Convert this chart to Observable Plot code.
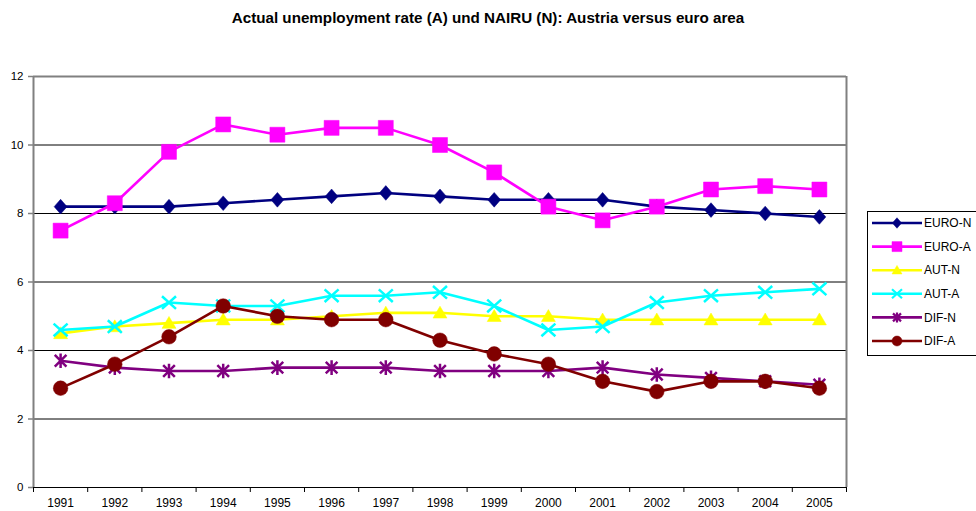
<!DOCTYPE html>
<html><head><meta charset="utf-8">
<script src="https://cdn.jsdelivr.net/npm/d3@7"></script>
<script src="https://cdn.jsdelivr.net/npm/@observablehq/plot@0.6"></script>
<style>
body{margin:0;background:#fff;font-family:"Liberation Sans",Arial,sans-serif;}
#wrap{position:relative;width:976px;height:511px;overflow:hidden;background:#fff}
#title{height:40px;line-height:36px;text-align:center;font-weight:bold;font-size:15.2px;color:#000}
#legend{position:absolute;left:867px;top:211px}
</style></head><body>
<div id="wrap">
<div id="title">Actual unemployment rate (A) und NAIRU (N): Austria versus euro area</div>
<div id="chart"></div>
<div id="legend"></div>
</div>
<script>
const years = [1991,1992,1993,1994,1995,1996,1997,1998,1999,2000,2001,2002,2003,2004,2005];
const euroN = [8.2,8.2,8.2,8.3,8.4,8.5,8.6,8.5,8.4,8.4,8.4,8.2,8.1,8.0,7.9];
const euroA = [7.5,8.3,9.8,10.6,10.3,10.5,10.5,10.0,9.2,8.2,7.8,8.2,8.7,8.8,8.7];
const autN  = [4.5,4.7,4.8,4.9,4.9,5.0,5.1,5.1,5.0,5.0,4.9,4.9,4.9,4.9,4.9];
const autA  = [4.6,4.7,5.4,5.3,5.3,5.6,5.6,5.7,5.3,4.6,4.7,5.4,5.6,5.7,5.8];
const difN  = [3.7,3.5,3.4,3.4,3.5,3.5,3.5,3.4,3.4,3.4,3.5,3.3,3.2,3.1,3.0];
const difA  = [2.9,3.6,4.4,5.3,5.0,4.9,4.9,4.3,3.9,3.6,3.1,2.8,3.1,3.1,2.9];
const seriesNames = ["EURO-N","EURO-A","AUT-N","AUT-A","DIF-N","DIF-A"];
const seriesValues = [euroN, euroA, autN, autA, difN, difA];
const seriesColors = ["#000080","#FF00FF","#FFFF00","#00FFFF","#800080","#800000"];
const yTicks = [0,2,4,6,8,10,12];

// custom marker shapes (size = pi r^2)
const rad = s => Math.sqrt(s/Math.PI);
const symDiamond = {draw(c,s){const r=rad(s);c.moveTo(0,-r*1.05);c.lineTo(r*0.92,0);c.lineTo(0,r*1.05);c.lineTo(-r*0.92,0);c.closePath();}};
const symSquare = {draw(c,s){const r=rad(s);c.rect(-r,-r,2*r,2*r);}};
const symTriangle = {draw(c,s){const r=rad(s);c.moveTo(0,-r*0.95);c.lineTo(r,r*0.75);c.lineTo(-r,r*0.75);c.closePath();}};
const symTimes = {draw(c,s){const r=rad(s);c.moveTo(-r,-r*0.9);c.lineTo(r,r*0.9);c.moveTo(r,-r*0.9);c.lineTo(-r,r*0.9);}};
const symAsterisk = {draw(c,s){const r=rad(s);const a=r*0.8;c.moveTo(-a,-a);c.lineTo(a,a);c.moveTo(a,-a);c.lineTo(-a,a);c.moveTo(0,-r);c.lineTo(0,r);}};
const symCircle = {draw(c,s){const r=rad(s);c.moveTo(r,0);c.arc(0,0,r,0,2*Math.PI);}};
const seriesSymbols = [symDiamond, symSquare, symTriangle, symTimes, symAsterisk, symCircle];
const seriesFilled = [true,true,true,false,false,true];
const seriesR = [7,7.5,7,7,7.3,7.3];

const data = seriesNames.flatMap((name,k)=>years.map((year,i)=>({series:name, year, value:seriesValues[k][i]})));
const bounds = d3.range(years.length+1).map(i=>years[0]-0.5+i);

const marks = [
  Plot.ruleY(yTicks.filter(v=>v>0 && v<12), {stroke:"#000", strokeWidth:1}),
  Plot.ruleY([12], {stroke:"#808080", strokeWidth:2}),
  Plot.ruleX([bounds[bounds.length-1]], {y1:0, y2:12, stroke:"#808080", strokeWidth:2}),
  Plot.ruleX([bounds[0]], {y1:0, y2:12, stroke:"#808080", strokeWidth:2}),
  Plot.axisY({ticks:yTicks, tickSize:5, tickPadding:5, stroke:"#808080", strokeWidth:1.5, tickFormat:d=>String(d), fill:"#000", label:null}),
  Plot.ruleY([0], {stroke:"#000", strokeWidth:1.2}),
  Plot.axisX({ticks:bounds, tickSize:5, tickFormat:()=>"", stroke:"#000", label:null}),
  Plot.axisX({ticks:years, tickSize:0, tickPadding:11, tickFormat:d=>String(d), fill:"#000", label:null, fontSize:12})
];
seriesNames.forEach((name,k)=>{
  const d = data.filter(r=>r.series===name);
  marks.push(Plot.line(d, {x:"year", y:"value", stroke:seriesColors[k], strokeWidth:2.6}));
  marks.push(Plot.dot(d, {x:"year", y:"value", symbol:seriesSymbols[k], r:seriesR[k],
    fill: seriesFilled[k] ? seriesColors[k] : "none",
    stroke: seriesColors[k], strokeWidth: seriesFilled[k] ? 0.5 : 2.5}));
});

const chart = Plot.plot({
  width:976, height:471,
  marginLeft:33, marginRight:130, marginTop:36, marginBottom:24,
  style:{fontSize:"11.5px", fontFamily:"'Liberation Sans', Arial, sans-serif", background:"#fff", color:"#000"},
  x:{type:"linear", domain:[bounds[0], bounds[bounds.length-1]], label:null},
  y:{domain:[0,12], label:null},
  marks
});
document.getElementById("chart").appendChild(chart);

// legend
const lg = d3.select("#legend").append("svg").attr("width",109).attr("height",146)
  .style("font-family","'Liberation Sans', Arial, sans-serif").style("font-size","12px");
lg.append("rect").attr("x",0.5).attr("y",0.5).attr("width",140).attr("height",144)
  .attr("fill","#fff").attr("stroke","#000").attr("stroke-width",1);
seriesNames.forEach((name,k)=>{
  const y = 12 + k*23.6;
  const g = lg.append("g");
  g.append("line").attr("x1",5).attr("x2",55).attr("y1",y).attr("y2",y)
    .attr("stroke",seriesColors[k]).attr("stroke-width",2.6);
  g.append("path").attr("transform",`translate(30,${y})`)
    .attr("d", d3.symbol().type(seriesSymbols[k]).size(Math.PI*Math.pow(5,2))())
    .attr("fill", seriesFilled[k]?seriesColors[k]:"none")
    .attr("stroke", seriesColors[k]).attr("stroke-width", seriesFilled[k]?0.5:2.2);
  g.append("text").attr("x",57).attr("y",y).attr("dy","0.35em").attr("fill","#000").text(name);
});
</script>
</body></html>
